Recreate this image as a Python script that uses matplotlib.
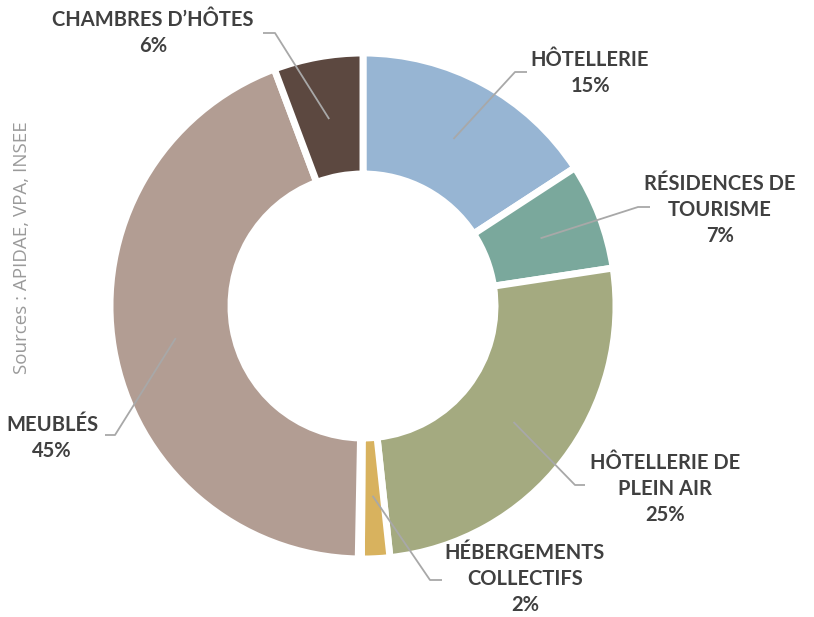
import numpy as np
import matplotlib.pyplot as plt

# share of tourist beds by type (%)
categories = ["Hôtellerie", "Résidences de tourisme", "Hôtellerie de plein air",
              "Hébergements collectifs", "Autres", "Meublés", "Chambres d'hôtes"]
values = [15.8, 6.8, 25.7, 1.8, 0.2, 44.0, 5.7]
labels = ["HÔTELLERIE\n15%", "RÉSIDENCES DE\nTOURISME\n7%", "HÔTELLERIE DE\nPLEIN AIR\n25%",
          "HÉBERGEMENTS\nCOLLECTIFS\n2%", None, "MEUBLÉS\n45%", "CHAMBRES D’HÔTES\n6%"]
colors = ["#97b5d3", "#7aa89c", "#a4aa80", "#d8b25e", "#5fa3a0", "#b29d93", "#5c4840"]

W, H = 814, 617
fig = plt.figure(figsize=(W / 100, H / 100), dpi=100)
ax = fig.add_axes([0, 0, 1, 1])

cx, cy, R = 363, H - 306, 253
wedges, _ = ax.pie(values, colors=colors, startangle=90, counterclock=False,
                   center=(cx, cy), radius=R,
                   wedgeprops=dict(width=R - 132, edgecolor="white", linewidth=5))

# elbow point and text centre (pixels from top-left) for each label
elbows = [(515, 72), (638, 207), (575, 485), (430, 580), None, (115, 435), (275, 33)]
ends = [(527, 72), (650, 207), (585, 485), (442, 580), None, (105, 435), (263, 33)]
text_pos = [(590, 73), (720, 210), (665, 489), (525, 579), None, (52, 438), (153, 33)]

for w, lab, el, en, tp in zip(wedges, labels, elbows, ends, text_pos):
    if lab is None:
        continue
    mid = np.deg2rad((w.theta1 + w.theta2) / 2)
    ax_x = cx + 190 * np.cos(mid)
    ax_y = cy + 190 * np.sin(mid)
    ax.plot([ax_x, el[0], en[0]], [ax_y, H - el[1], H - en[1]],
            color="#a8a8a8", lw=1.3, solid_capstyle="butt")
    ax.text(tp[0], H - tp[1], lab, ha="center", va="center", fontsize=14.5,
            fontweight="bold", family="Lato", color="#404040", linespacing=1.4)

ax.text(22, H - 248, "Sources : APIDAE, VPA, INSEE", rotation=90, ha="center",
        va="center", fontsize=13.5, family="Open Sans", color="#9a9a9a")

ax.set_xlim(0, W)
ax.set_ylim(0, H)
ax.set_aspect("equal")
ax.axis("off")
fig.savefig("out.png", dpi=100, facecolor="white")
